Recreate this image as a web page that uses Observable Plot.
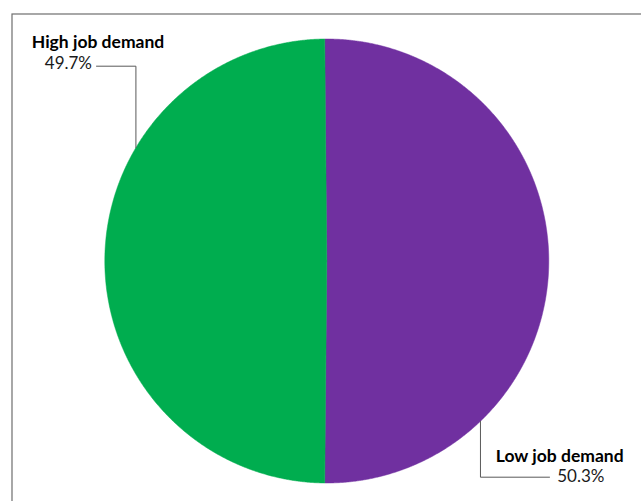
<!DOCTYPE html>
<html>
<head>
<meta charset="utf-8">
<script src="https://cdn.jsdelivr.net/npm/d3@7"></script>
<script src="https://cdn.jsdelivr.net/npm/@observablehq/plot@0.6"></script>
<style>
  html, body { margin: 0; padding: 0; background: #fff; overflow: hidden; }
  #chart svg { display: block; }
</style>
</head>
<body>
<div id="chart"></div>
<script>
// ---- data ----
const categories = ["Low job demand", "High job demand"];
const shares = [50.3, 49.7];
const shareLabels = ["50.3%", "49.7%"];
const sliceColors = ["#7030A0", "#00AD4F"];

// ---- layout (pixels) ----
const W = 641, H = 501;
const CX = 326.3, CY = 260.5, R = 222;
const toU = (px, py) => ({x: (px - CX) / R, y: (CY - py) / R});
const fsN = 17.5, fsP = 17;

// label layout: leader angle (deg, clockwise from 12 o'clock), corner/end pixels, text pixels
const labelLayout = {
  "High job demand": {angle: 300.7, cornerY: 65.7, endX: 96,
    name: {x: 97.5, y: 48.3, anchor: "middle"}, pct: {x: 91.5, y: 69.3, anchor: "end"}},
  "Low job demand": {angle: 136.2, cornerY: 476.7, endX: 549,
    name: {x: 559.2, y: 462, anchor: "middle"}, pct: {x: 556.7, y: 482, anchor: "start"}}
};

// ---- slices from data ----
const offset = -Math.PI * (shares[0] - shares[1]) / 200; // centre the small excess about 12/6 o'clock
const pie = d3.pie().sort(null).startAngle(offset).endAngle(2 * Math.PI + offset)(shares);
const slicePts = [];
pie.forEach((s, i) => {
  const cat = categories[i];
  slicePts.push({cat, x: 0, y: 0});
  const n = Math.max(2, Math.ceil((s.endAngle - s.startAngle) / (Math.PI / 720)));
  for (let k = 0; k <= n; k++) {
    const a = s.startAngle + (s.endAngle - s.startAngle) * k / n;
    slicePts.push({cat, x: Math.sin(a), y: Math.cos(a)});
  }
  slicePts.push({cat, x: 0, y: 0});
});

// ---- leaders & labels ----
const leaderPts = [];
const nameText = [];
const pctText = [];
categories.forEach((cat, i) => {
  const L = labelLayout[cat];
  const a = L.angle * Math.PI / 180;
  const ex = Math.sin(a), ey = Math.cos(a);
  const corner = toU(0, L.cornerY);
  const end = toU(L.endX, 0);
  leaderPts.push({cat, x: ex, y: ey});
  leaderPts.push({cat, x: ex, y: corner.y});
  leaderPts.push({cat, x: end.x, y: corner.y});
  const n = toU(L.name.x, L.name.y - 0.34 * fsN);
  nameText.push({cat, text: cat, x: n.x, y: n.y, anchor: L.name.anchor});
  const p = toU(L.pct.x, L.pct.y - 0.34 * fsP);
  pctText.push({cat, text: shareLabels[i], x: p.x, y: p.y, anchor: L.pct.anchor});
});

const chart = Plot.plot({
  width: W, height: H,
  margin: 0,
  x: {domain: [-CX / R, (W - CX) / R], range: [0, W], axis: null},
  y: {domain: [(CY - H) / R, CY / R], range: [H, 0], axis: null},
  color: {domain: categories, range: sliceColors},
  style: {fontFamily: "Lato, 'Open Sans', sans-serif", background: "#fff"},
  marks: [
    Plot.frame({stroke: "#6e6e6e", strokeWidth: 1.2, insetLeft: 11.5, insetTop: 13.5, insetRight: -5, insetBottom: -5}),
    Plot.line(slicePts, {x: "x", y: "y", z: "cat", fill: "cat", stroke: "cat", strokeWidth: 0.5, curve: "linear"}),
    Plot.line(leaderPts, {x: "x", y: "y", z: "cat", stroke: "#595959", strokeWidth: 1}),
    Plot.text(nameText, {x: "x", y: "y", text: "text", textAnchor: "middle", fontWeight: "bold", fontSize: fsN, fill: "#000"}),
    Plot.text(pctText.filter(d => d.anchor === "end"), {x: "x", y: "y", text: "text", textAnchor: "end", fontSize: fsP, fill: "#1a1a1a"}),
    Plot.text(pctText.filter(d => d.anchor === "start"), {x: "x", y: "y", text: "text", textAnchor: "start", fontSize: fsP, fill: "#1a1a1a"})
  ]
});
document.getElementById("chart").appendChild(chart);
</script>
</body>
</html>
